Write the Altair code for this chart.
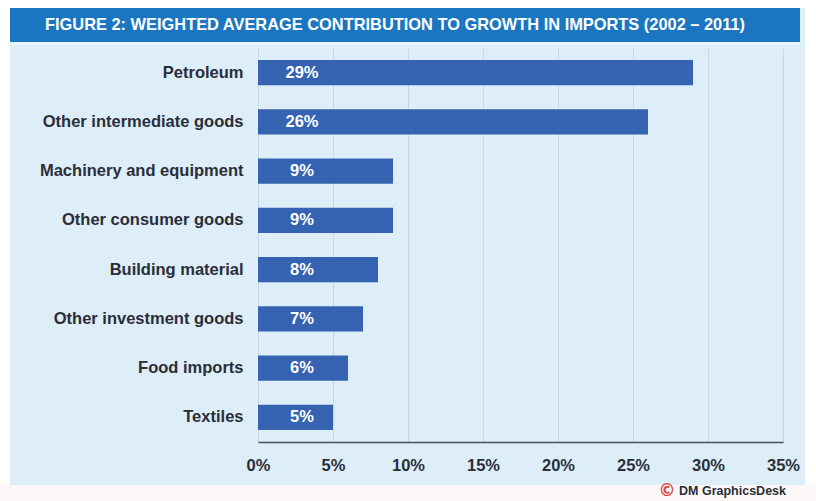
import altair as alt
import pandas as pd

categories = ["Petroleum", "Other intermediate goods", "Machinery and equipment",
              "Other consumer goods", "Building material", "Other investment goods",
              "Food imports", "Textiles"]
values = [29, 26, 9, 9, 8, 7, 6, 5]
labels = ["29%", "26%", "9%", "9%", "8%", "7%", "6%", "5%"]
tick_values = [0, 5, 10, 15, 20, 25, 30, 35]
title_text = "FIGURE 2: WEIGHTED AVERAGE CONTRIBUTION TO GROWTH IN IMPORTS (2002 \u2013 2011)"
credit_text = "DM GraphicsDesk"

df = pd.DataFrame({"category": categories, "value": values, "label": labels})
one = pd.DataFrame({"a": [0]})

FONT = "Liberation Sans"
BG = "#ddeef9"
BAR = "#3562b1"
BANNER = "#1a76c1"
DARK = "#2b2d38"

W, H = 525, 394

y_enc = alt.Y("category:N", sort=categories, title=None,
              scale=alt.Scale(paddingInner=0.49, paddingOuter=0.245),
              axis=alt.Axis(ticks=False, domain=False, labelFontSize=16.5, labelFont=FONT,
                            labelFontWeight="bold", labelColor=DARK, labelPadding=15,
                            labelLimit=300))
x_enc = alt.X("value:Q", title=None,
              scale=alt.Scale(domain=[0, 35], nice=False),
              axis=alt.Axis(values=tick_values, labelExpr="datum.value + '%'",
                            grid=True, gridColor="#c4d8e8", gridWidth=1,
                            ticks=False, domainColor="#4a4f5a", domainWidth=1.5,
                            labelFontSize=16.5, labelFont=FONT, labelFontWeight="bold",
                            labelColor=DARK, labelPadding=15, labelFlush=False))

bars = alt.Chart(df).mark_bar(color=BAR).encode(y=y_enc, x=x_enc)

bar_text = alt.Chart(df).mark_text(color="white", font=FONT, fontWeight="bold",
                                   fontSize=16.5, align="center", baseline="middle").encode(
    y=alt.Y("category:N", sort=categories),
    x=alt.value(44),
    text="label:N")

def strip(x0, x1, y0, y1, color):
    return alt.Chart(one).mark_rect(color=color).encode(
        x=alt.value(x0), x2=alt.value(x1), y=alt.value(y0), y2=alt.value(y1))

top_white = strip(-260, 560, -50, -40, "white")
left_white = strip(-260, -248, -50, 460, "white")
right_white = strip(547, 560, -50, 460, "white")
bottom_white = strip(-260, 560, 437, 460, "#fdf8f8")
banner = strip(-248, 542, -40, -6, BANNER)
banner_line = strip(-248, 542, -6, -3, "#eaf6fd")

title = alt.Chart(one).mark_text(text=title_text, color="white", font=FONT,
                                 fontWeight="bold", fontSize=16.4, align="center",
                                 baseline="middle").encode(
    x=alt.value(137), y=alt.value(-23))

credit_icon = alt.Chart(one).mark_text(text="\u00a9", color="#e0443e", font="DejaVu Sans",
                                       fontWeight="bold", fontSize=17, align="center",
                                       baseline="middle").encode(
    x=alt.value(409), y=alt.value(443))
credit = alt.Chart(one).mark_text(text=credit_text, color=DARK, font=FONT,
                                  fontWeight="bold", fontSize=12.5, align="left",
                                  baseline="middle").encode(
    x=alt.value(421), y=alt.value(443))

chart = alt.layer(top_white, left_white, right_white, bottom_white, banner, banner_line,
                  bars, bar_text, title, credit_icon, credit).properties(
    width=W, height=H,
    autosize=alt.AutoSizeParams(type="none"),
    padding={"left": 258, "top": 48, "right": 33, "bottom": 59},
    background=BG,
).configure_view(stroke=None)

chart.save("out.html", embed_options={"renderer": "svg", "actions": False})
